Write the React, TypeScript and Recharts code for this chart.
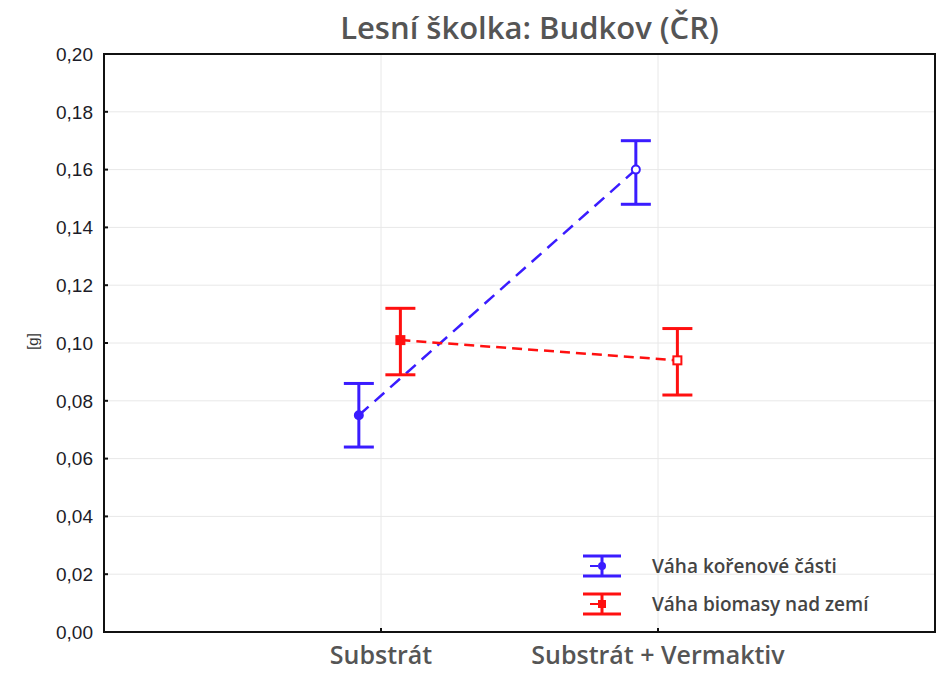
import React from 'react';
import { LineChart, Line, XAxis, YAxis, CartesianGrid, ErrorBar, ReferenceArea } from 'recharts';

const categories = ['Substrát', 'Substrát + Vermaktiv'];
const yTicks = [0, 0.02, 0.04, 0.06, 0.08, 0.1, 0.12, 0.14, 0.16, 0.18, 0.2];

const rootMean = [0.075, 0.160];
const rootLow = [0.064, 0.148];
const rootHigh = [0.086, 0.170];

const bioMean = [0.101, 0.094];
const bioLow = [0.089, 0.082];
const bioHigh = [0.112, 0.105];

const BLUE = '#3a1cff';
const RED = '#ff1010';

// categories sit at 1 and 2 on a 0..3 axis; series are nudged sideways
const rootShift = -0.08;
const bioShift = 0.07;

const build = (mean: number[], low: number[], high: number[], shift: number) =>
  mean.map((m, i) => ({ x: i + 1 + shift, y: m, err: [m - low[i], high[i] - m] }));

const rootData = build(rootMean, rootLow, rootHigh, rootShift);
const bioData = build(bioMean, bioLow, bioHigh, bioShift);

const fmt = (v: number) => v.toFixed(2).replace('.', ',');

const RootDot = (props: any) => {
  const { cx, cy, index } = props;
  return (
    <circle key={`r${index}`} cx={cx} cy={cy} r={4} stroke={BLUE} strokeWidth={2}
      fill={index === 0 ? BLUE : '#fff'} />
  );
};

const BioDot = (props: any) => {
  const { cx, cy, index } = props;
  return (
    <rect key={`b${index}`} x={cx - 4} y={cy - 4} width={8} height={8} stroke={RED} strokeWidth={2}
      fill={index === 0 ? RED : '#fff'} />
  );
};

const LegendIcon = ({ color, square }: { color: string; square?: boolean }) => (
  <svg width={40} height={26} style={{ display: 'block' }}>
    <line x1={1} y1={3} x2={39} y2={3} stroke={color} strokeWidth={3} />
    <line x1={1} y1={23} x2={39} y2={23} stroke={color} strokeWidth={3} />
    <line x1={20} y1={3} x2={20} y2={23} stroke={color} strokeWidth={3} />
    <line x1={8} y1={13} x2={16} y2={13} stroke={color} strokeWidth={2} />
    {square ? (
      <rect x={16} y={9} width={8} height={8} fill={color} />
    ) : (
      <circle cx={20} cy={13} r={4} fill={color} />
    )}
  </svg>
);

const legendText: React.CSSProperties = {
  fontFamily: '"Open Sans", sans-serif',
  fontWeight: 600,
  fontSize: 19,
  color: '#444',
  marginLeft: 30,
  whiteSpace: 'nowrap',
};

export default function App() {
  return (
    <div style={{ position: 'absolute', left: 0, top: 0, width: 943, height: 673, background: '#fff' }}>
      <LineChart width={943} height={673} margin={{ top: 54, right: 8, bottom: 0, left: 0 }}>
        <CartesianGrid stroke="#e8e8e8" strokeWidth={1} />
        <XAxis
          type="number"
          dataKey="x"
          domain={[0, 3]}
          ticks={[1, 2]}
          tickFormatter={(v: number) => categories[v - 1] ?? ''}
          height={41}
          axisLine={{ stroke: '#111', strokeWidth: 2 }}
          tickLine={{ stroke: '#111', strokeWidth: 2 }}
          tickSize={-4}
          tickMargin={18}
          tick={{ fill: '#555', fontSize: 25, fontWeight: 600, fontFamily: '"Open Sans", sans-serif' }}
          allowDataOverflow
        />
        <YAxis
          type="number"
          domain={[0, 0.2]}
          ticks={yTicks}
          tickFormatter={fmt}
          width={104}
          axisLine={{ stroke: '#111', strokeWidth: 2 }}
          tickLine={{ stroke: '#111', strokeWidth: 2 }}
          tickSize={-4}
          tickMargin={15}
          tick={{ fill: '#1c1c28', fontSize: 19, fontFamily: '"Liberation Sans", Arial, sans-serif' }}
        />
        <ReferenceArea x1={0} x2={3} y1={0} y2={0.2} fill="none" stroke="#111" strokeWidth={2} />
        <Line
          data={rootData}
          dataKey="y"
          name="Váha kořenové části"
          stroke={BLUE}
          strokeWidth={2.5}
          strokeDasharray="13 8"
          dot={RootDot}
          isAnimationActive={false}
        >
          <ErrorBar dataKey="err" direction="y" width={15} stroke={BLUE} strokeWidth={3} />
        </Line>
        <Line
          data={bioData}
          dataKey="y"
          name="Váha biomasy nad zemí"
          stroke={RED}
          strokeWidth={2.5}
          strokeDasharray="10 6"
          dot={BioDot}
          isAnimationActive={false}
        >
          <ErrorBar dataKey="err" direction="y" width={15} stroke={RED} strokeWidth={3} />
        </Line>
      </LineChart>
      <div
        style={{
          position: 'absolute',
          top: 6,
          left: 0,
          width: 1059,
          textAlign: 'center',
          fontFamily: '"Open Sans", sans-serif',
          fontWeight: 600,
          fontSize: 31,
          color: '#555',
          whiteSpace: 'nowrap',
        }}
      >
        Lesní školka: Budkov (ČR)
      </div>
      <div
        style={{
          position: 'absolute',
          left: 24,
          top: 333,
          transform: 'rotate(-90deg)',
          fontFamily: '"Liberation Sans", Arial, sans-serif',
          fontSize: 15,
          color: '#333',
        }}
      >
        [g]
      </div>
      <div style={{ position: 'absolute', left: 582, top: 553 }}>
        <div style={{ display: 'flex', alignItems: 'center', height: 26, marginBottom: 12 }}>
          <LegendIcon color={BLUE} />
          <span style={legendText}>Váha kořenové části</span>
        </div>
        <div style={{ display: 'flex', alignItems: 'center', height: 26 }}>
          <LegendIcon color={RED} square />
          <span style={legendText}>Váha biomasy nad zemí</span>
        </div>
      </div>
    </div>
  );
}
